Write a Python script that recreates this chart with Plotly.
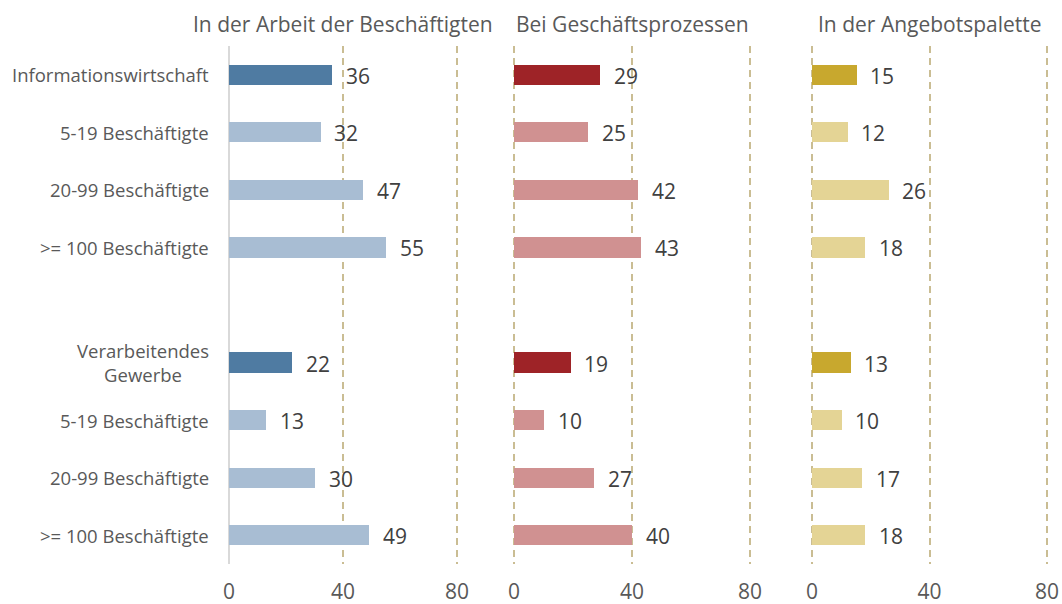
import plotly.graph_objects as go

categories = ["Informationswirtschaft", "5-19 Beschäftigte", "20-99 Beschäftigte", ">= 100 Beschäftigte",
              "", "Verarbeitendes<br>Gewerbe", "5-19 Beschäftigte", "20-99 Beschäftigte", ">= 100 Beschäftigte"]
arbeit = [36, 32, 47, 55, None, 22, 13, 30, 49]
prozesse = [29, 25, 42, 43, None, 19, 10, 27, 40]
angebot = [15, 12, 26, 18, None, 13, 10, 17, 18]
panel_titles = ["In der Arbeit der Beschäftigten", "Bei Geschäftsprozessen", "In der Angebotspalette"]
x_ticks = [0, 40, 80]

dark = ["#4f7ba2", "#9e2327", "#c8a82e"]
light = ["#a8bdd3", "#d09191", "#e4d495"]
header_rows = {0, 5}

W, H = 1062, 604
# pixel positions of the 0 and 80 lines of each panel
px0 = [229, 514, 812]
px80 = [457, 750, 1047]
pad = 0.5
domains = []
for a, b in zip(px0, px80):
    s = (b - a) / 80.0
    domains.append([(a - pad * s) / W, (b + pad * s) / W])
ydom = [(H - 564) / H, (H - 46) / H]
ypos = list(range(len(categories)))

fig = go.Figure()
series = [arbeit, prozesse, angebot]
font = "Open Sans, Arial, sans-serif"
for k, vals in enumerate(series):
    xa = "x" if k == 0 else f"x{k+1}"
    colors = [dark[k] if i in header_rows else light[k] for i in ypos]
    fig.add_trace(go.Bar(
        x=vals, y=ypos, orientation="h", width=0.35,
        marker=dict(color=colors, line=dict(width=0)),
        xaxis=xa, yaxis="y", showlegend=False, hoverinfo="x"))
    for i, v in enumerate(vals):
        if v is None:
            continue
        fig.add_annotation(x=v, y=i, xref=xa, yref="y", text=str(v), showarrow=False,
                           xanchor="left", xshift=12, yshift=-1,
                           font=dict(family=font, size=21, color="#404040"))
    fig.add_annotation(x=(px0[k] + px80[k]) / 2 / W, y=(H - 24) / H,
                       xref="paper", yref="paper", text=panel_titles[k], showarrow=False,
                       xanchor="center", yanchor="middle",
                       font=dict(family=font, size=21, color="#595959"))

# category labels (right aligned block, lines centered)
for i, lab in enumerate(categories):
    if not lab:
        continue
    fig.add_annotation(x=px0[0] / W, y=i, xref="paper", yref="y", text=lab, showarrow=False,
                       xanchor="right", yanchor="middle", align="center", xshift=-18,
                       font=dict(family=font, size=18.5, color="#595959"))

grid_col = "#cabd93"
for k in range(3):
    key = "xaxis" if k == 0 else f"xaxis{k+1}"
    fig.layout[key] = dict(
        domain=domains[k], range=[-pad, 80 + pad], anchor="y",
        tickvals=x_ticks, ticktext=[str(t) for t in x_ticks],
        showgrid=True, gridcolor=grid_col, gridwidth=2, griddash="7px,5px",
        zeroline=(k == 0), zerolinecolor="#d9d9d9", zerolinewidth=2,
        showline=False, ticks="", ticklabelstandoff=13, automargin=False,
        tickfont=dict(family=font, size=21, color="#595959"),
        fixedrange=True)

fig.update_layout(
    width=W, height=H,
    margin=dict(l=0, r=0, t=0, b=0),
    paper_bgcolor="white", plot_bgcolor="white",
    bargap=0,
    yaxis=dict(domain=ydom, range=[len(categories) - 0.5, -0.5], automargin=False,
               tickvals=ypos, ticktext=["" for _ in ypos], showgrid=False, zeroline=False,
               showline=False, ticks="", fixedrange=True),
)

fig.write_html("out.html", config={"displayModeBar": False},
               post_script="document.body.style.margin='0';document.body.style.overflow='hidden';")
